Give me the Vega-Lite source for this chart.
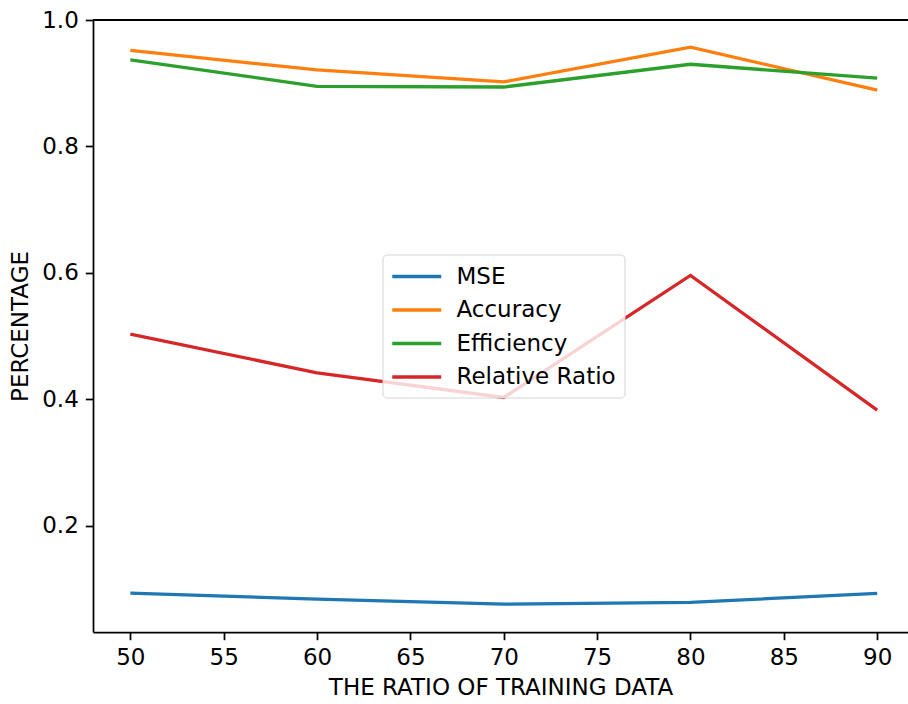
{
  "$schema": "https://vega.github.io/schema/vega-lite/v6.json",
  "autosize": "none",
  "width": 815,
  "height": 612,
  "padding": {"left": 93, "top": 20, "right": 0, "bottom": 72},
  "background": "white",
  "config": {
    "view": {"stroke": null},
    "font": "DejaVu Sans",
    "axis": {
      "labelFont": "DejaVu Sans",
      "titleFont": "DejaVu Sans",
      "labelFontSize": 23,
      "titleFontSize": 23,
      "titleFontWeight": "normal",
      "labelColor": "black",
      "titleColor": "black",
      "domainColor": "black",
      "domainWidth": 1.75,
      "tickColor": "black",
      "tickWidth": 1.75,
      "tickSize": 7.7,
      "labelPadding": 7,
      "grid": false
    }
  },
  "data": {
    "values": [
      {"ratio": 50, "series": "MSE", "value": 0.0935},
      {"ratio": 60, "series": "MSE", "value": 0.084},
      {"ratio": 70, "series": "MSE", "value": 0.076},
      {"ratio": 80, "series": "MSE", "value": 0.079},
      {"ratio": 90, "series": "MSE", "value": 0.093},
      {"ratio": 50, "series": "Accuracy", "value": 0.952},
      {"ratio": 60, "series": "Accuracy", "value": 0.921},
      {"ratio": 70, "series": "Accuracy", "value": 0.902},
      {"ratio": 80, "series": "Accuracy", "value": 0.957},
      {"ratio": 90, "series": "Accuracy", "value": 0.889},
      {"ratio": 50, "series": "Efficiency", "value": 0.937},
      {"ratio": 60, "series": "Efficiency", "value": 0.895},
      {"ratio": 70, "series": "Efficiency", "value": 0.894},
      {"ratio": 80, "series": "Efficiency", "value": 0.930},
      {"ratio": 90, "series": "Efficiency", "value": 0.908},
      {"ratio": 50, "series": "Relative Ratio", "value": 0.503},
      {"ratio": 60, "series": "Relative Ratio", "value": 0.442},
      {"ratio": 70, "series": "Relative Ratio", "value": 0.403},
      {"ratio": 80, "series": "Relative Ratio", "value": 0.596},
      {"ratio": 90, "series": "Relative Ratio", "value": 0.383}
    ]
  },
  "layer": [
    {
      "mark": {"type": "line", "strokeWidth": 3.3, "clip": true},
      "encoding": {
        "x": {
          "field": "ratio",
          "type": "quantitative",
          "scale": {"domain": [48, 91.65], "nice": false, "zero": false},
          "axis": {"values": [50, 55, 60, 65, 70, 75, 80, 85, 90], "title": "THE RATIO OF TRAINING DATA", "titlePadding": 7}
        },
        "y": {
          "field": "value",
          "type": "quantitative",
          "scale": {"domain": [0.032, 1.0], "nice": false, "zero": false},
          "axis": {"values": [0.2, 0.4, 0.6, 0.8, 1.0], "format": ".1f", "title": "PERCENTAGE", "titlePadding": 9}
        },
        "color": {
          "field": "series",
          "type": "nominal",
          "scale": {
            "domain": ["MSE", "Accuracy", "Efficiency", "Relative Ratio"],
            "range": ["#1f77b4", "#ff7f0e", "#2ca02c", "#d62728"]
          },
          "legend": {
            "title": null,
            "orient": "none",
            "legendX": 289.5,
            "legendY": 234.5,
            "symbolType": "M-1,0H3",
            "symbolSize": 600,
            "symbolStrokeWidth": 3.3,
            "labelFontSize": 23,
            "labelFont": "DejaVu Sans",
            "labelColor": "black",
            "labelOffset": 38,
            "rowPadding": 7.5,
            "padding": 8,
            "fillColor": "rgba(255,255,255,0.8)",
            "strokeColor": "#d5d5d5",
            "cornerRadius": 4
          }
        }
      }
    },
    {
      "mark": {"type": "rule", "color": "black", "strokeWidth": 1.75},
      "encoding": {"y": {"datum": 1.0}}
    }
  ]
}
